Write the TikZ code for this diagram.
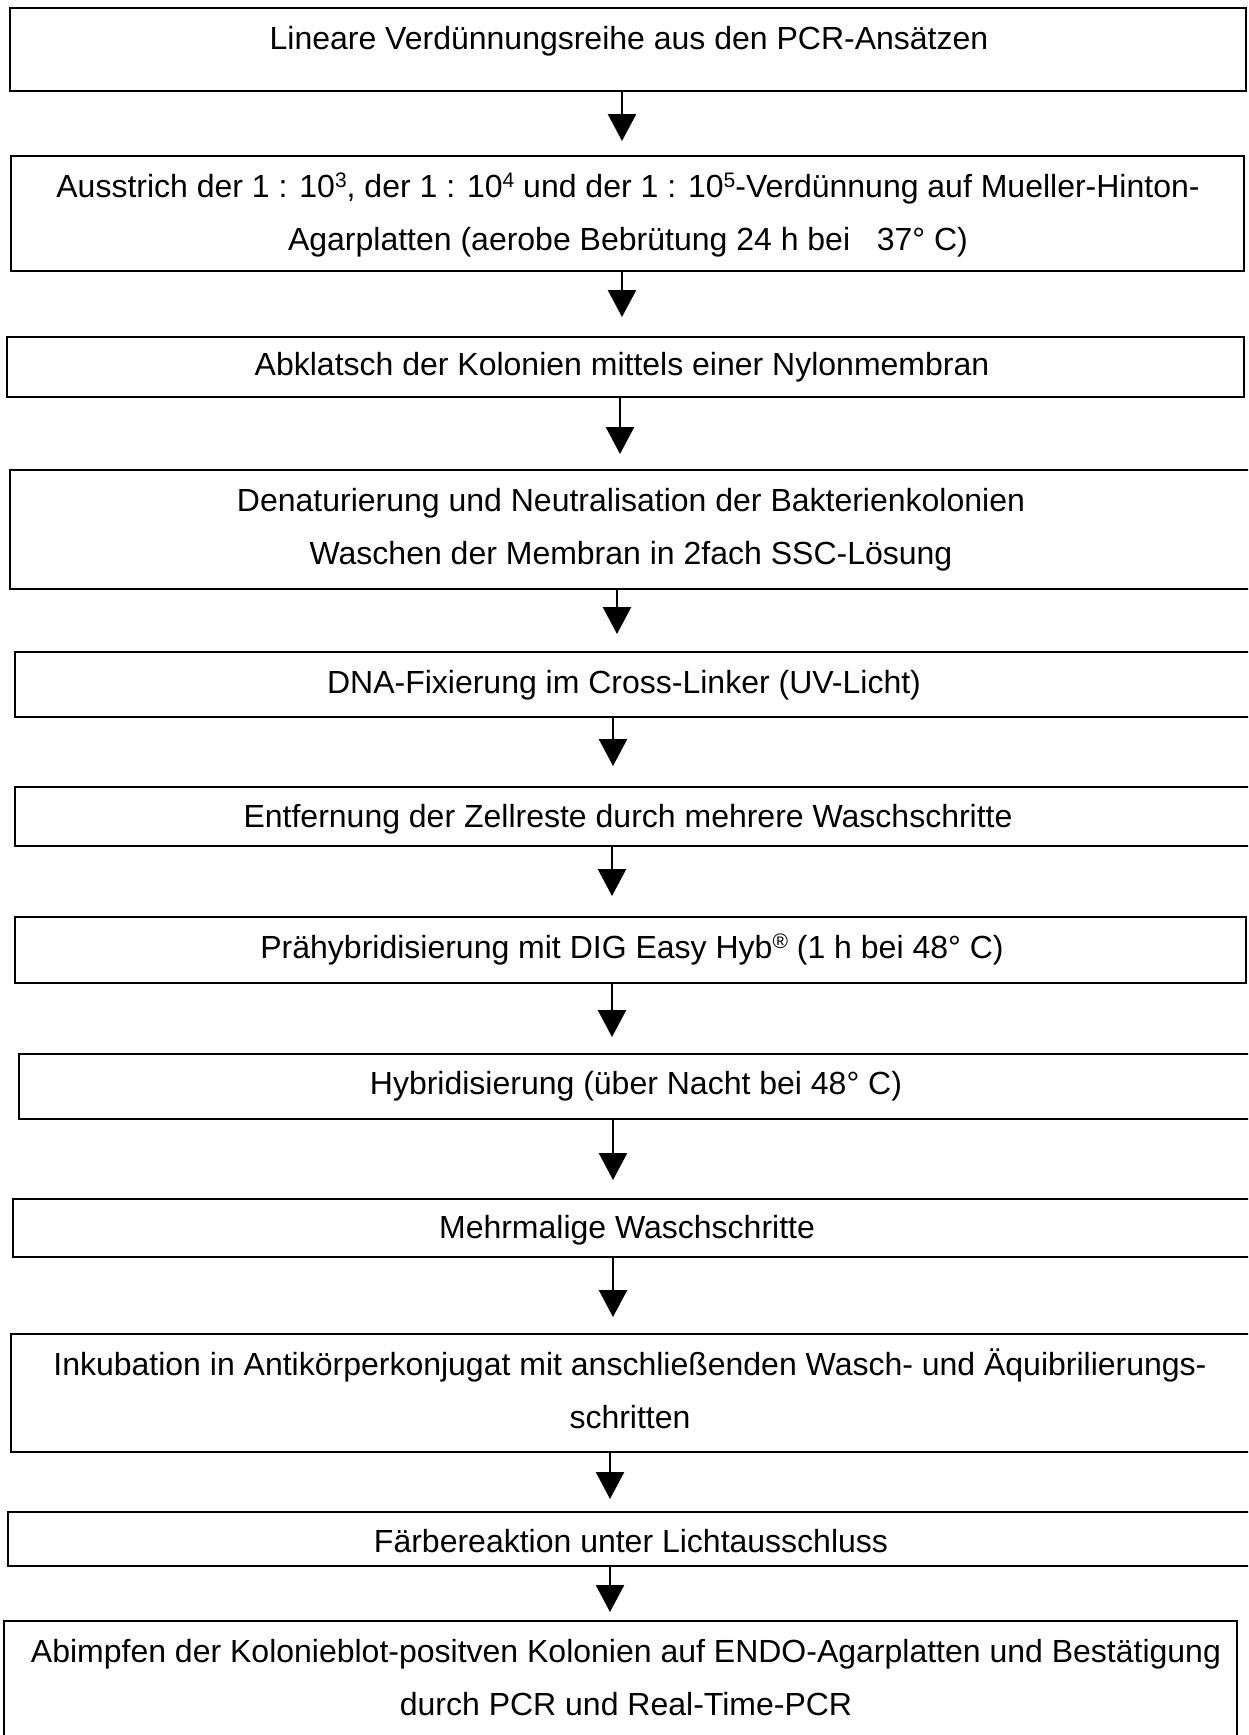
\documentclass[tikz,border=0pt]{standalone}
\usepackage{fontspec}
\setmainfont{Liberation Sans}
\usetikzlibrary{arrows.meta,fit}

% small raised exponent / registered mark
\newcommand\hoch[1]{\raisebox{10pt}{\fontsize{21}{21}\selectfont #1}}

\tikzset{
  stepbox/.style={draw=black, line width=1.6pt, inner sep=0pt, outer sep=0pt, rectangle},
  txt/.style={anchor=base, inner sep=0pt, font=\fontsize{32}{38}\selectfont},
  arr/.style={line width=2.6pt, -{Triangle[length=27pt, width=28pt]}}
}

\begin{document}
\begin{tikzpicture}[x=1pt, y=-1pt]
  \useasboundingbox (0,0) rectangle (1248,1735);
  \clip (0,0) rectangle (1248,1735);

  % process steps (boxes)
  \node[stepbox, fit={(10,8) (1246,91)}] (b1) {};
  \node[stepbox, fit={(11,156) (1244,271)}] (b2) {};
  \node[stepbox, fit={(7,337) (1244,397)}] (b3) {};
  \node[stepbox, fit={(10,470) (1262,589)}] (b4) {};
  \node[stepbox, fit={(15,652) (1262,717)}] (b5) {};
  \node[stepbox, fit={(15,787) (1262,846)}] (b6) {};
  \node[stepbox, fit={(15,917) (1246,983)}] (b7) {};
  \node[stepbox, fit={(19,1054) (1262,1119)}] (b8) {};
  \node[stepbox, fit={(13,1199) (1262,1257)}] (b9) {};
  \node[stepbox, fit={(11,1334) (1262,1452)}] (b10) {};
  \node[stepbox, fit={(8,1512) (1262,1566)}] (b11) {};
  \node[stepbox, fit={(4,1621) (1237,1765)}] (b12) {};

  % step texts
  \node[txt] (l1) at (629,49) {Lineare Verdünnungsreihe aus den PCR-Ansätzen};
  \node[txt] (l2a) at (628,197) {Ausstrich der 1 : 10\hoch{3}, der 1 : 10\hoch{4} und der 1 : 10\hoch{5}-Verdünnung auf Mueller-Hinton-};
  \node[txt] (l2b) at (628,250) {Agarplatten (aerobe Bebrütung 24 h bei\ \ \ 37° C)};
  \node[txt] (l3) at (622,375) {Abklatsch der Kolonien mittels einer Nylonmembran};
  \node[txt] (l4a) at (631,511) {Denaturierung und Neutralisation der Bakterienkolonien};
  \node[txt] (l4b) at (631,564) {Waschen der Membran in 2fach SSC-Lösung};
  \node[txt] (l5) at (624,693) {DNA-Fixierung im Cross-Linker (UV-Licht)};
  \node[txt] (l6) at (628,827) {Entfernung der Zellreste durch mehrere Waschschritte};
  \node[txt] (l7) at (632,958) {Prähybridisierung mit DIG Easy Hyb\hoch{®} (1 h bei 48° C)};
  \node[txt] (l8) at (636,1094) {Hybridisierung (über Nacht bei 48° C)};
  \node[txt] (l9) at (627,1238) {Mehrmalige Waschschritte};
  \node[txt] (l10a) at (630,1375) {Inkubation in Antikörperkonjugat mit anschließenden Wasch- und Äquibrilierungs-};
  \node[txt] (l10b) at (630,1428) {schritten};
  \node[txt] (l11) at (631,1552) {Färbereaktion unter Lichtausschluss};
  \node[txt] (l12a) at (626,1662) {Abimpfen der Kolonieblot-positven Kolonien auf ENDO-Agarplatten und Bestätigung};
  \node[txt] (l12b) at (626,1715) {durch PCR und Real-Time-PCR};

  % arrow tips
  \coordinate (t1) at (622,141);
  \coordinate (t2) at (622,317);
  \coordinate (t3) at (620,454);
  \coordinate (t4) at (617,634);
  \coordinate (t5) at (613,766);
  \coordinate (t6) at (612,896);
  \coordinate (t7) at (612,1037);
  \coordinate (t8) at (613,1180);
  \coordinate (t9) at (613,1317);
  \coordinate (t10) at (610,1499);
  \coordinate (t11) at (610,1612);

  % connectors
  \draw[arr] (b1.south -| t1) -- (t1);
  \draw[arr] (b2.south -| t2) -- (t2);
  \draw[arr] (b3.south -| t3) -- (t3);
  \draw[arr] (b4.south -| t4) -- (t4);
  \draw[arr] (b5.south -| t5) -- (t5);
  \draw[arr] (b6.south -| t6) -- (t6);
  \draw[arr] (b7.south -| t7) -- (t7);
  \draw[arr] (b8.south -| t8) -- (t8);
  \draw[arr] (b9.south -| t9) -- (t9);
  \draw[arr] (b10.south -| t10) -- (t10);
  \draw[arr] (b11.south -| t11) -- (t11);
\end{tikzpicture}
\end{document}
